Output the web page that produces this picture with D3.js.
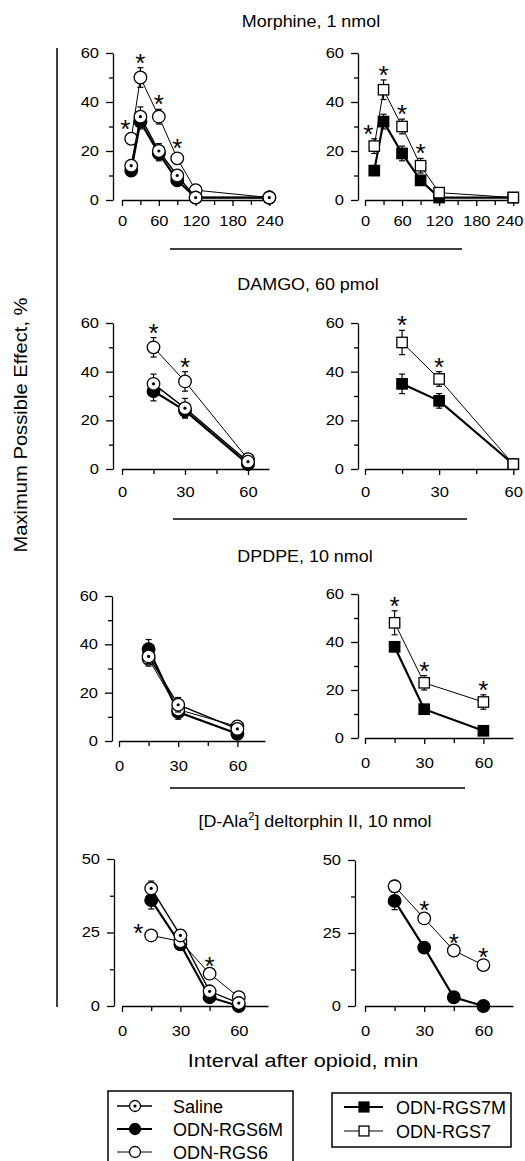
<!DOCTYPE html>
<html>
<head>
<meta charset="utf-8">
<script src="https://cdnjs.cloudflare.com/ajax/libs/d3/7.8.5/d3.min.js"></script>
<style>
  body { margin: 0; background: #fff; }
  text { font-family: "Liberation Sans", Arial, sans-serif; fill: #000; }
</style>
</head>
<body>
<div id="chart"></div>
<script>
//time points (min) for each opioid
var morphineTimes = [15, 30, 60, 90, 120, 240];
var damgoTimes = [15, 30, 60];
var dpdpeTimes = [15, 30, 60];
var deltTimes = [15, 30, 45, 60];

//Morphine, 1 nmol (% MPE, mean and SEM)
var morSaline = [14, 34, 20, 10, 1, 1];
var morSalineErr = [2, 4, 3, 2, 1, 1];
var morRGS6M = [12, 32, 19, 8, 1, 1];
var morRGS6MErr = [2, 3, 3, 2, 1, 0];
var morRGS6 = [25, 50, 34, 17, 4, 1];
var morRGS6Err = [2, 4, 3, 2, 1, 1];
var morRGS6Sig = [1, 1, 1, 1, 0, 0];
var morRGS7M = [12, 32, 19, 8, 1, 1];
var morRGS7MErr = [2, 3, 3, 2, 1, 1];
var morRGS7 = [22, 45, 30, 14, 3, 1];
var morRGS7Err = [3, 4, 3, 3, 1, 1];
var morRGS7Sig = [1, 1, 1, 1, 0, 0];

//DAMGO, 60 pmol
var damSaline = [35, 25, 3];
var damSalineErr = [4, 4, 1];
var damRGS6M = [32, 24, 2];
var damRGS6MErr = [4, 3, 1];
var damRGS6 = [50, 36, 4];
var damRGS6Err = [4, 4, 1];
var damRGS6Sig = [1, 1, 0];
var damRGS7M = [35, 28, 2];
var damRGS7MErr = [4, 3, 1];
var damRGS7 = [52, 37, 2];
var damRGS7Err = [5, 3, 1];
var damRGS7Sig = [1, 1, 0];

//DPDPE, 10 nmol
var dpdSaline = [35, 15, 5];
var dpdSalineErr = [3, 3, 1];
var dpdRGS6M = [38, 12, 3];
var dpdRGS6MErr = [4, 3, 1];
var dpdRGS6 = [34, 13, 6];
var dpdRGS6Err = [3, 2, 1];
var dpdRGS6Sig = [0, 0, 0];
var dpdRGS7M = [38, 12, 3];
var dpdRGS7MErr = [2, 1, 1];
var dpdRGS7 = [48, 23, 15];
var dpdRGS7Err = [5, 3, 3];
var dpdRGS7Sig = [1, 1, 1];

//[D-Ala2] deltorphin II, 10 nmol
var delSaline = [40, 24, 5, 1];
var delSalineErr = [2.5, 1, 1, 1];
var delRGS6M = [36, 21, 3, 0];
var delRGS6MErr = [3, 1, 1, 0];
var delRGS6 = [24, 22, 11, 3];
var delRGS6Err = [1, 1, 1, 1];
var delRGS6Sig = [1, 0, 1, 0];
var delBRGS6M = [36, 20, 3, 0];
var delBRGS6MErr = [3, 1, 0.5, 0];
var delBRGS6 = [41, 30, 19, 14];
var delBRGS6Err = [2, 1, 1, 1];
var delBRGS6Sig = [0, 1, 1, 1];

//tick values
var ticks60Major = [0, 20, 40, 60];
var ticks60Minor = [10, 30, 50];
var ticks50Major = [0, 25, 50];
var ticks50Minor = [12.5, 37.5];
var morXMajor = [0, 60, 120, 180, 240];
var morXMinor = [30, 90, 150, 210];
var shortXMajor = [0, 30, 60];
var shortXMinor = [15, 45];

var titles = ["Morphine, 1 nmol", "DAMGO, 60 pmol", "DPDPE, 10 nmol"];
var legendLeft = ["Saline", "ODN-RGS6M", "ODN-RGS6"];
var legendRight = ["ODN-RGS7M", "ODN-RGS7"];

//marker / line styles for each treatment
var styles = {
  saline: {shape: "circle", fill: "#fff", dot: true, lw: 1.4},
  rgs6m: {shape: "circle", fill: "#000", dot: false, lw: 2.2},
  rgs6: {shape: "circle", fill: "#fff", dot: false, lw: 1},
  rgs7m: {shape: "square", fill: "#000", dot: false, lw: 2.2},
  rgs7: {shape: "square", fill: "#fff", dot: false, lw: 1}
};

var svg = d3.select("#chart")
  .append("svg")
  .attr("width", 525)
  .attr("height", 1161);

//text with a horizontal stretch like the original figure
function addText(g, x, y, str, size, sx, anchor) {
  return g.append("text")
    .attr("transform", `translate(${x},${y}) scale(${sx},1)`)
    .attr("text-anchor", anchor || "middle")
    .attr("font-size", size)
    .text(str);
}

function drawMarker(g, style, cx, cy, r) {
  if (style.shape === "circle") {
    g.append("circle")
      .attr("cx", cx).attr("cy", cy).attr("r", r)
      .attr("fill", style.fill).attr("stroke", "#000").attr("stroke-width", 1.3);
    if (style.dot) {
      g.append("circle").attr("cx", cx).attr("cy", cy).attr("r", 1.6).attr("fill", "#000");
    }
  } else {
    var s = r * 1.65;
    g.append("rect")
      .attr("x", cx - s / 2).attr("y", cy - s / 2)
      .attr("width", s).attr("height", s)
      .attr("fill", style.fill).attr("stroke", "#000").attr("stroke-width", 1.3);
  }
}

var panels = [
  {times: morphineTimes, xmax: 246, x0: 122, x1: 273, yAxisX: 113, yTop: 53, yBot: 200, ymax: 60,
   yMajor: ticks60Major, yMinor: ticks60Minor, xMajor: morXMajor, xMinor: morXMinor, pad: 10,
   series: [["rgs6m", morRGS6M, morRGS6MErr], ["rgs6", morRGS6, morRGS6Err], ["saline", morSaline, morSalineErr]],
   sig: [morRGS6, morRGS6Err, morRGS6Sig], starLeft: {0: [-6, -11]}},
  {times: morphineTimes, xmax: 246, x0: 365, x1: 517, yAxisX: 358, yTop: 53, yBot: 200, ymax: 60,
   yMajor: ticks60Major, yMinor: ticks60Minor, xMajor: morXMajor, xMinor: morXMinor, pad: 10,
   series: [["rgs7m", morRGS7M, morRGS7MErr], ["rgs7", morRGS7, morRGS7Err]],
   sig: [morRGS7, morRGS7Err, morRGS7Sig], starLeft: {0: [-6, -11]}},
  {times: damgoTimes, xmax: 70, x0: 122, x1: 269, yAxisX: 113, yTop: 323, yBot: 469, ymax: 60,
   yMajor: ticks60Major, yMinor: ticks60Minor, xMajor: shortXMajor, xMinor: shortXMinor, pad: 12,
   series: [["rgs6m", damRGS6M, damRGS6MErr], ["rgs6", damRGS6, damRGS6Err], ["saline", damSaline, damSalineErr]],
   sig: [damRGS6, damRGS6Err, damRGS6Sig], starLeft: {}},
  {times: damgoTimes, xmax: 61.5, x0: 365, x1: 517, yAxisX: 358, yTop: 323, yBot: 469, ymax: 60,
   yMajor: ticks60Major, yMinor: ticks60Minor, xMajor: shortXMajor, xMinor: shortXMinor, pad: 12,
   series: [["rgs7m", damRGS7M, damRGS7MErr], ["rgs7", damRGS7, damRGS7Err]],
   sig: [damRGS7, damRGS7Err, damRGS7Sig], starLeft: {}},
  {times: dpdpeTimes, xmax: 74, x0: 119, x1: 265, yAxisX: 112, yTop: 596, yBot: 741, ymax: 60,
   yMajor: ticks60Major, yMinor: ticks60Minor, xMajor: shortXMajor, xMinor: shortXMinor, pad: 14,
   series: [["rgs6m", dpdRGS6M, dpdRGS6MErr], ["rgs6", dpdRGS6, dpdRGS6Err], ["saline", dpdSaline, dpdSalineErr]],
   sig: [dpdRGS6, dpdRGS6Err, dpdRGS6Sig], starLeft: {}},
  {times: dpdpeTimes, xmax: 75, x0: 365, x1: 513, yAxisX: 358, yTop: 594, yBot: 738, ymax: 60,
   yMajor: ticks60Major, yMinor: ticks60Minor, xMajor: shortXMajor, xMinor: shortXMinor, pad: 14,
   series: [["rgs7m", dpdRGS7M, dpdRGS7MErr], ["rgs7", dpdRGS7, dpdRGS7Err]],
   sig: [dpdRGS7, dpdRGS7Err, dpdRGS7Sig], starLeft: {}},
  {times: deltTimes, xmax: 75, x0: 122, x1: 268, yAxisX: 114, yTop: 859, yBot: 1006, ymax: 50,
   yMajor: ticks50Major, yMinor: ticks50Minor, xMajor: shortXMajor, xMinor: shortXMinor, pad: 14,
   series: [["rgs6m", delRGS6M, delRGS6MErr], ["rgs6", delRGS6, delRGS6Err], ["saline", delSaline, delSalineErr]],
   sig: [delRGS6, delRGS6Err, delRGS6Sig], starLeft: {0: [-13, 3]}},
  {times: deltTimes, xmax: 75, x0: 365, x1: 513, yAxisX: 355, yTop: 860, yBot: 1006, ymax: 50,
   yMajor: ticks50Major, yMinor: ticks50Minor, xMajor: shortXMajor, xMinor: shortXMinor, pad: 14,
   series: [["rgs6m", delBRGS6M, delBRGS6MErr], ["rgs6", delBRGS6, delBRGS6Err]],
   sig: [delBRGS6, delBRGS6Err, delBRGS6Sig], starLeft: {}}
];

var tickSx = 1.18;

function drawPanel(p) {
  var x = d3.scaleLinear().domain([0, p.xmax]).range([p.x0, p.x1]);
  var y = d3.scaleLinear().domain([0, p.ymax]).range([p.yBot, p.yTop]);
  var g = svg.append("g");

  //y axis, minor then major ticks
  var yMin = g.append("g")
    .attr("transform", `translate(${p.yAxisX},0)`)
    .call(d3.axisLeft(y).tickValues(p.yMinor).tickSize(4).tickSizeOuter(0).tickFormat(""));
  yMin.select(".domain").remove();
  var yMaj = g.append("g")
    .attr("transform", `translate(${p.yAxisX},0)`)
    .call(d3.axisLeft(y).tickValues(p.yMajor).tickSize(7).tickSizeOuter(0));
  yMaj.selectAll("text")
    .attr("font-size", 14)
    .attr("x", -14 / tickSx)
    .attr("transform", `scale(${tickSx},1)`);

  //x axis, starts at x = 0, not at the y axis
  var xMin = g.append("g")
    .attr("transform", `translate(0,${p.yBot})`)
    .call(d3.axisBottom(x).tickValues(p.xMinor).tickSize(5).tickSizeOuter(0).tickFormat(""));
  xMin.select(".domain").remove();
  var xMaj = g.append("g")
    .attr("transform", `translate(0,${p.yBot})`)
    .call(d3.axisBottom(x).tickValues(p.xMajor).tickSize(6).tickSizeOuter(0).tickPadding(p.pad));
  xMaj.selectAll("text")
    .attr("font-size", 14)
    .attr("transform", `scale(${tickSx},1)`)
    .each(function(d) {
      //keep the last label inside the page
      var right = x(d) + this.getComputedTextLength() * tickSx / 2;
      if (right > 523) d3.select(this).attr("x", (523 - right) / tickSx);
    });

  g.selectAll(".domain, .tick line").attr("stroke", "#000").attr("stroke-width", 1.3);
  g.selectAll("g").attr("font-size", null).attr("font-family", null);

  //series: error bars, line, markers
  p.series.forEach(function(s) {
    var st = styles[s[0]];
    var vals = s[1], errs = s[2];
    var sg = g.append("g");
    vals.forEach(function(v, i) {
      if (errs[i] > 0) {
        var cx = x(p.times[i]);
        sg.append("line").attr("x1", cx).attr("x2", cx)
          .attr("y1", y(v - errs[i])).attr("y2", y(v + errs[i]))
          .attr("stroke", "#000").attr("stroke-width", 1.2);
        [v - errs[i], v + errs[i]].forEach(function(e) {
          sg.append("line").attr("x1", cx - 3).attr("x2", cx + 3)
            .attr("y1", y(e)).attr("y2", y(e))
            .attr("stroke", "#000").attr("stroke-width", 1.2);
        });
      }
    });
    var line = d3.line()
      .x(function(d, i) { return x(p.times[i]); })
      .y(function(d) { return y(d); });
    sg.append("path")
      .attr("d", line(vals))
      .attr("fill", "none")
      .attr("stroke", "#000")
      .attr("stroke-width", st.lw);
    vals.forEach(function(v, i) {
      drawMarker(sg, st, x(p.times[i]), y(v), 6.3);
    });
  });

  //significance asterisks
  var sv = p.sig[0], se = p.sig[1], ss = p.sig[2];
  ss.forEach(function(flag, i) {
    if (!flag) return;
    var cx = x(p.times[i]);
    var cy = y(sv[i] + se[i]) - 11;
    if (p.starLeft[i]) {
      cx += p.starLeft[i][0];
      cy = (p.starLeft[i][1] > 0) ? y(sv[i]) - 8 : cy;
    }
    g.append("text")
      .attr("x", cx)
      .attr("y", cy + 15)
      .attr("text-anchor", "middle")
      .attr("font-size", 26)
      .text("*");
  });
}

panels.forEach(drawPanel);

//section titles
var titleBase = [27, 290, 562];
var titleX = [311, 308, 305];
titles.forEach(function(t, i) {
  addText(svg, titleX[i], titleBase[i], t, 16, 1.12);
});
var delTitle = svg.append("text")
  .attr("transform", "translate(315,827) scale(1.12,1)")
  .attr("text-anchor", "middle")
  .attr("font-size", 16);
delTitle.append("tspan").text("[D-Ala");
delTitle.append("tspan").attr("font-size", 10).attr("dy", -7).text("2");
delTitle.append("tspan").attr("dy", 7).text("] deltorphin II, 10 nmol");

//separator lines between sections
var sepY = [249, 519, 788];
var sepX0 = [170, 173, 170];
var sepX1 = [462, 467, 465];
sepY.forEach(function(yy, i) {
  svg.append("line")
    .attr("x1", sepX0[i]).attr("x2", sepX1[i])
    .attr("y1", yy).attr("y2", yy)
    .attr("stroke", "#000").attr("stroke-width", 1.5);
});

//long left bracket line and shared y label
svg.append("line")
  .attr("x1", 57).attr("x2", 57)
  .attr("y1", 48).attr("y2", 1007)
  .attr("stroke", "#000").attr("stroke-width", 1.5);
svg.append("text")
  .attr("transform", "translate(27,425) rotate(-90) scale(1.12,1)")
  .attr("text-anchor", "middle")
  .attr("font-size", 18)
  .text("Maximum Possible Effect, %");

//x label
addText(svg, 303, 1067, "Interval after opioid, min", 18, 1.2);

//legends
var legL = svg.append("g");
legL.append("rect")
  .attr("x", 108).attr("y", 1091).attr("width", 185).attr("height", 100)
  .attr("fill", "none").attr("stroke", "#000").attr("stroke-width", 1.5);
var legLKeys = ["saline", "rgs6m", "rgs6"];
legendLeft.forEach(function(name, i) {
  var cy = 1106 + i * 23;
  var st = styles[legLKeys[i]];
  legL.append("line").attr("x1", 117).attr("x2", 152).attr("y1", cy).attr("y2", cy)
    .attr("stroke", "#000").attr("stroke-width", st.lw);
  drawMarker(legL, st, 135, cy, 5.5);
  legL.append("text").attr("x", 173).attr("y", cy + 6.5).attr("font-size", 18).text(name);
});

var legR = svg.append("g");
legR.append("rect")
  .attr("x", 332).attr("y", 1093).attr("width", 179).attr("height", 54)
  .attr("fill", "none").attr("stroke", "#000").attr("stroke-width", 1.5);
var legRKeys = ["rgs7m", "rgs7"];
legendRight.forEach(function(name, i) {
  var cy = 1107 + i * 24;
  var st = styles[legRKeys[i]];
  legR.append("line").attr("x1", 344).attr("x2", 383).attr("y1", cy).attr("y2", cy)
    .attr("stroke", "#000").attr("stroke-width", st.lw);
  drawMarker(legR, st, 364, cy, 6);
  legR.append("text").attr("x", 396).attr("y", cy + 6.5).attr("font-size", 18).text(name);
});
</script>
</body>
</html>
